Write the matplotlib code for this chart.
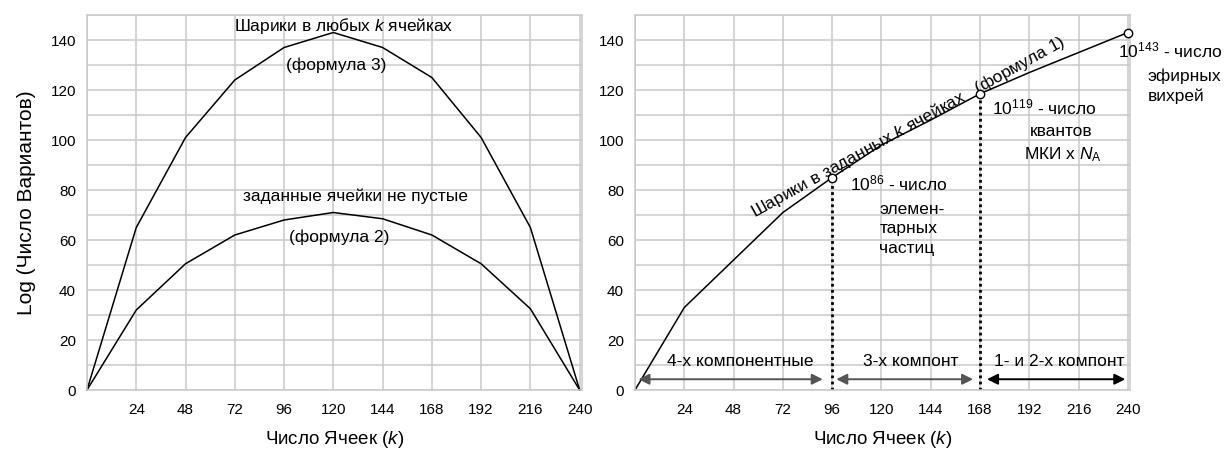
import numpy as np
import matplotlib
matplotlib.use("Agg")
import matplotlib.pyplot as plt

plt.rcParams['font.family'] = ['Liberation Sans', 'DejaVu Sans']
plt.rcParams['mathtext.fontset'] = 'custom'
plt.rcParams['mathtext.rm'] = 'Liberation Sans'
plt.rcParams['mathtext.it'] = 'Liberation Sans:italic'

# data
k = [0, 24, 48, 72, 96, 120, 144, 168, 192, 216, 240]
any_cells = [0, 65, 101, 124, 137, 143, 137, 125, 101, 65, 0]        # формула 3
not_empty = [0, 32, 50.5, 62, 68, 71, 68.5, 62, 50.5, 32.5, 0]       # формула 2
given_cells = [0, 33, 52, 71, 85, 98, 108, 118.5, 127, 135, 143]     # формула 1

marked_k = [96, 168, 240]
marked_v = [85, 118.5, 143]

x_ticks = [24, 48, 72, 96, 120, 144, 168, 192, 216, 240]
y_ticks = [0, 20, 40, 60, 80, 100, 120, 140]

GRID = '#c9c9c9'
FS = 12.5
W, H = 1224, 450
fig = plt.figure(figsize=(W / 100, H / 100), dpi=100)


def setup(ax):
    ax.set_xlim(0, 241)
    ax.set_ylim(0, 150)
    ax.set_xticks(x_ticks)
    ax.set_yticks(y_ticks)
    ax.set_xticks(np.arange(0, 241, 24), minor=True)
    ax.set_yticks(np.arange(0, 151, 10), minor=True)
    ax.grid(True, which='both', color=GRID, lw=1.1)
    ax.set_axisbelow(True)
    ax.tick_params(which='both', length=0, labelsize=11)
    ax.tick_params(axis='x', pad=9)
    ax.tick_params(axis='y', pad=8)
    for s in ax.spines.values():
        s.set_color(GRID)
        s.set_linewidth(1.1)
    ax.set_xlabel('Число Ячеек ($k$)', fontsize=13.5, labelpad=9)


# left chart
ax1 = fig.add_axes([87 / W, 60 / H, 494.7 / W, 375 / H])
setup(ax1)
ax1.plot(k, any_cells, color='black', lw=1.1, clip_on=False)
ax1.plot(k, not_empty, color='black', lw=1.1, clip_on=False)
ax1.set_ylabel('Log (Число Вариантов)', fontsize=15, labelpad=10)
ax1.text(125, 145.6, 'Шарики в любых $k$ ячейках', fontsize=FS, ha='center', va='center')
ax1.text(121.5, 130, '(формула 3)', fontsize=FS, ha='center', va='center')
ax1.text(131, 77.6, 'заданные ячейки не пустые', fontsize=FS, ha='center', va='center')
ax1.text(123, 61, '(формула 2)', fontsize=FS, ha='center', va='center')

# right chart
ax2 = fig.add_axes([635 / W, 60 / H, 495 / W, 375 / H])
setup(ax2)
ax2.plot(k, given_cells, color='black', lw=1.1, clip_on=False)
for kk, vv in zip(marked_k[:2], marked_v[:2]):
    ax2.plot([kk, kk], [0, vv], color='black', lw=2, ls=(0, (1, 1.2)))
ax2.plot(marked_k, marked_v, 'o', ms=6, mfc='white', mec='black', mew=1, clip_on=False, zorder=5)

ax2.text(133.2, 105.3, 'Шарики в заданных $k$ ячейках   (формула 1)', fontsize=FS,
         ha='center', va='center', rotation=29, rotation_mode='anchor')

ax2.text(104.5, 82.8, '10$^{86}$ - число', fontsize=FS, ha='left', va='center')
ax2.text(119, 72, 'элемен-', fontsize=FS, ha='left', va='center')
ax2.text(119, 64.4, 'тарных', fontsize=FS, ha='left', va='center')
ax2.text(119, 56.7, 'частиц', fontsize=FS, ha='left', va='center')

ax2.text(174, 113, '10$^{119}$ - число', fontsize=FS, ha='left', va='center')
ax2.text(207.6, 103.6, 'квантов', fontsize=FS, ha='center', va='center')
ax2.text(208.6, 94.3, 'МКИ x $N_{\\mathrm{A}}$', fontsize=FS, ha='center', va='center')

ax2.text(235, 136, '10$^{143}$ - число', fontsize=FS, ha='left', va='center', clip_on=False)
ax2.text(249.5, 125.3, 'эфирных', fontsize=FS, ha='left', va='center', clip_on=False)
ax2.text(249.5, 117.6, 'вихрей', fontsize=FS, ha='left', va='center', clip_on=False)

arrows = [(1.7, 91.4, '#555555', 51.4, '4-х компонентные'),
          (98, 164.6, '#555555', 134.3, '3-х компонт'),
          (171.4, 238.7, 'black', 206.3, '1- и 2-х компонт')]
for x0, x1, c, xt, label in arrows:
    ax2.annotate('', xy=(x1, 4.3), xytext=(x0, 4.3),
                 arrowprops=dict(arrowstyle='<|-|>', color=c, lw=1.4,
                                 mutation_scale=16, shrinkA=0, shrinkB=0))
    ax2.text(xt, 11.3, label, fontsize=FS, ha='center', va='center')

fig.savefig('out.png', dpi=100)
